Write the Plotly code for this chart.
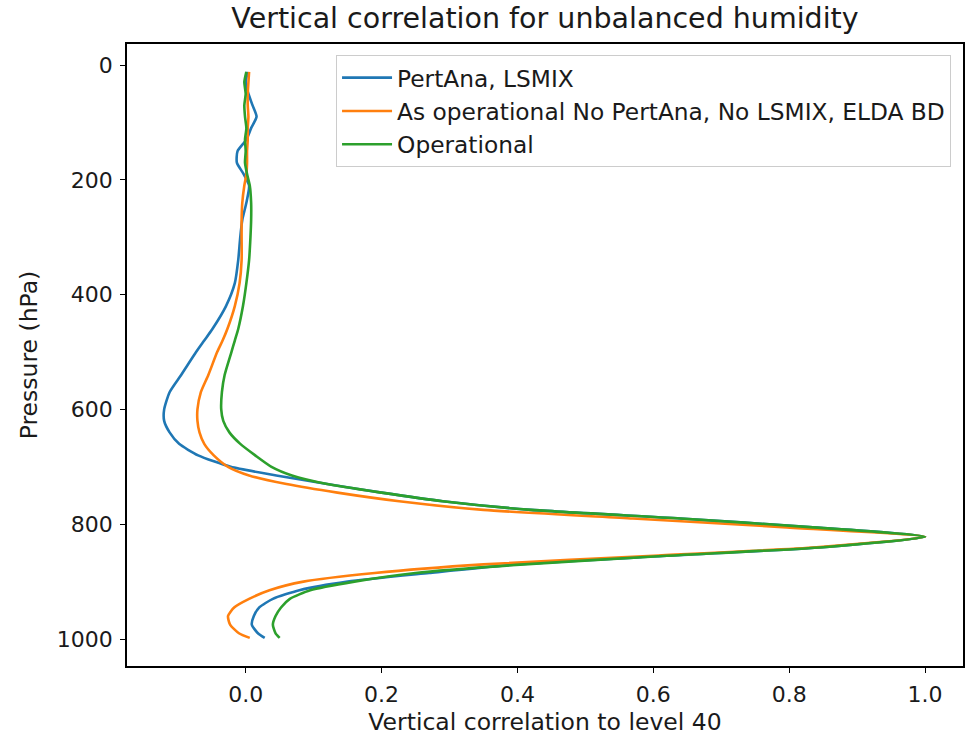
import plotly.graph_objects as go

pressure = [12, 30, 50, 70, 90, 110, 130, 150, 170, 190, 210, 240, 270, 300, 340, 380,
            420, 460, 480, 500, 540, 570, 600, 620, 640, 660, 680, 700, 715, 730, 745,
            760, 775, 790, 805, 822, 840, 855, 870, 885, 900, 915, 930, 945, 960, 975,
            990, 998]

pertana_lsmix = [0.003, 0.0, 0.004, 0.010, 0.016, 0.008, 0.001, -0.012, -0.013, -0.003,
                 0.005, 0.001, -0.005, -0.008, -0.011, -0.016, -0.029, -0.049, -0.061,
                 -0.073, -0.095, -0.112, -0.120, -0.120, -0.112, -0.098, -0.070, -0.022,
                 0.045, 0.120, 0.200, 0.290, 0.420, 0.640, 0.830, 1.0, 0.850, 0.620,
                 0.400, 0.270, 0.150, 0.079, 0.040, 0.020, 0.012, 0.009, 0.018, 0.028]

as_operational = [0.005, 0.004, 0.003, 0.003, 0.004, 0.003, 0.003, 0.002, 0.002, 0.001,
                  -0.002, -0.005, -0.006, -0.006, -0.006, -0.009, -0.016, -0.027, -0.034,
                  -0.042, -0.055, -0.066, -0.071, -0.071, -0.068, -0.061, -0.047, -0.026,
                  0.005, 0.060, 0.135, 0.226, 0.350, 0.570, 0.790, 1.0, 0.840, 0.600,
                  0.350, 0.190, 0.085, 0.035, 0.005, -0.017, -0.026, -0.023, -0.010, 0.006]

operational = [0.001, -0.002, 0.0, -0.002, -0.001, 0.001, -0.001, 0.0, -0.001, 0.002,
               0.006, 0.008, 0.008, 0.007, 0.005, 0.001, -0.004, -0.011, -0.016, -0.021,
               -0.031, -0.035, -0.036, -0.033, -0.024, -0.008, 0.014, 0.038, 0.068,
               0.120, 0.200, 0.290, 0.420, 0.640, 0.830, 1.0, 0.850, 0.620, 0.410, 0.250,
               0.160, 0.095, 0.065, 0.052, 0.044, 0.040, 0.044, 0.050]

series = [
    ("PertAna, LSMIX", pertana_lsmix, "#1f77b4"),
    ("As operational No PertAna, No LSMIX, ELDA BD", as_operational, "#ff7f0e"),
    ("Operational", operational, "#2ca02c"),
]

x_ticks = [0.0, 0.2, 0.4, 0.6, 0.8, 1.0]
x_ticklabels = ["0.0", "0.2", "0.4", "0.6", "0.8", "1.0"]
y_ticks = [0, 200, 400, 600, 800, 1000]

FONT = "DejaVu Sans"

fig = go.Figure()
for name, vals, color in series:
    fig.add_trace(go.Scatter(
        x=vals, y=pressure, mode="lines", name=name,
        line=dict(color=color, width=2.6, shape="spline", smoothing=0.6),
    ))

fig.update_layout(
    width=967, height=736,
    margin=dict(l=127, r=2, t=44, b=70),
    paper_bgcolor="white", plot_bgcolor="white",
    font=dict(family=FONT, size=22, color="#1a1a1a"),
    title=dict(text="Vertical correlation for unbalanced humidity",
               x=0.5, xref="paper", y=1 - 18 / 736, yref="container",
               yanchor="middle", xanchor="center",
               font=dict(family=FONT, size=28.5, color="#1a1a1a")),
    legend=dict(x=0.9857, y=0.9823, xanchor="right", yanchor="top",
                bgcolor="rgba(255,255,255,0.8)", bordercolor="#cccccc",
                borderwidth=1, font=dict(family=FONT, size=23.3, color="#1a1a1a"),
                itemwidth=50),
    showlegend=True,
)

fig.update_xaxes(
    range=[-0.1747, 1.0558], tickvals=x_ticks, ticktext=x_ticklabels,
    showgrid=False, zeroline=False, showline=True, linecolor="black",
    linewidth=1.5, mirror=True, ticks="outside", ticklen=5, tickwidth=1.2,
    tickcolor="black", ticklabelstandoff=3,
    title=dict(text="Vertical correlation to level 40", standoff=7,
               font=dict(family=FONT, size=23.5)),
)
fig.update_yaxes(
    range=[1047, -36.6], tickvals=y_ticks,
    showgrid=False, zeroline=False, showline=True, linecolor="black",
    linewidth=1.5, mirror=True, ticks="outside", ticklen=5, tickwidth=1.2,
    tickcolor="black", ticklabelstandoff=3,
    title=dict(text="Pressure (hPa)", standoff=13,
               font=dict(family=FONT, size=23.5)),
)

fig.write_html("out.html")
